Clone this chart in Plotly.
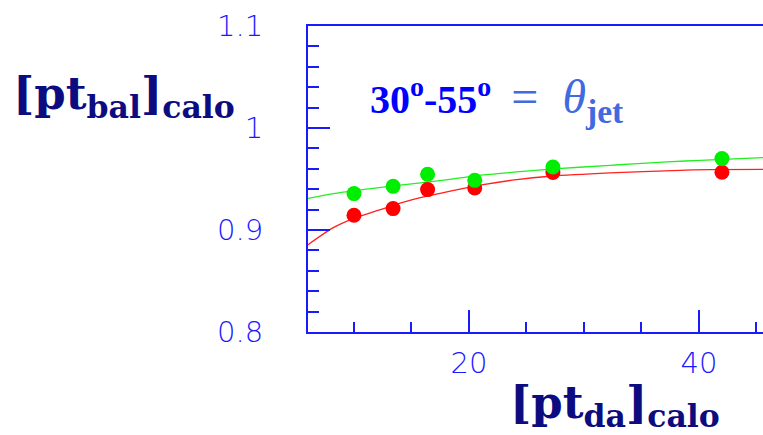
import plotly.graph_objects as go

# ---- data ----
pt_da = [10.0, 13.4, 16.4, 20.5, 27.3, 42.0]
green_vals = [0.9357, 0.9428, 0.9546, 0.9487, 0.9618, 0.9700]
red_vals = [0.9144, 0.9210, 0.9396, 0.9412, 0.9563, 0.9566]

fit_x = [5.94, 8.20, 9.94, 11.68, 13.43, 15.17, 19.22, 21.24, 24.15, 27.04, 32.26, 38.35, 40.96, 45.57]
red_fit = [0.8851, 0.9023, 0.9112, 0.9177, 0.9242, 0.9300, 0.9400, 0.9445, 0.9494, 0.9527, 0.9560, 0.9585, 0.9592, 0.9594]
green_fit_x = [5.94, 8.20, 11.10, 14.0, 16.9, 19.22, 21.24, 24.15, 27.04, 32.26, 34.29, 37.2, 40.09, 45.57]
green_fit = [0.9308, 0.9357, 0.9400, 0.9440, 0.9477, 0.9510, 0.9540, 0.9569, 0.9596, 0.9634, 0.9649, 0.9667, 0.9683, 0.9710]

y_tickvals = [0.8, 0.9, 1.0, 1.1]
y_ticktext = ["0.8", "0.9", "1", "1.1"]
x_tickvals = [20, 40]
x_ticktext = ["20", "40"]

AXIS_BLUE = "#1a1aff"
NAVY = "#0c0c80"

fig = go.Figure()
fig.add_trace(go.Scatter(x=green_fit_x, y=green_fit, mode="lines", line=dict(color="#22ee22", width=1.3, shape="spline", smoothing=0.8), showlegend=False, hoverinfo="skip"))
fig.add_trace(go.Scatter(x=fit_x, y=red_fit, mode="lines", line=dict(color="#ff2020", width=1.3, shape="spline", smoothing=0.8), showlegend=False, hoverinfo="skip"))
fig.add_trace(go.Scatter(x=pt_da, y=red_vals, mode="markers", marker=dict(color="#ff0000", size=15, line=dict(width=0)), showlegend=False))
fig.add_trace(go.Scatter(x=pt_da, y=green_vals, mode="markers", marker=dict(color="#00ee00", size=15, line=dict(width=0)), showlegend=False))

tickfont = dict(family="DejaVu Sans", size=29, color=AXIS_BLUE, weight=200)

fig.update_xaxes(
    range=[6.0, 45.57], showgrid=False, zeroline=False,
    showline=True, linecolor=AXIS_BLUE, linewidth=2, mirror=True,
    tickvals=x_tickvals, ticktext=x_ticktext, ticks="inside", ticklen=22, tickwidth=2, tickcolor=AXIS_BLUE,
    minor=dict(dtick=5, tick0=0, ticks="inside", ticklen=10, tickwidth=2, tickcolor=AXIS_BLUE, showgrid=False),
    tickfont=tickfont, ticklabelstandoff=4,
)
fig.update_yaxes(
    range=[0.8, 1.1], showgrid=False, zeroline=False,
    showline=True, linecolor=AXIS_BLUE, linewidth=2, mirror=False,
    tickvals=y_tickvals, ticktext=y_ticktext, ticks="inside", ticklen=22, tickwidth=2, tickcolor=AXIS_BLUE,
    minor=dict(dtick=0.02, tick0=0.8, ticks="inside", ticklen=11, tickwidth=2, tickcolor=AXIS_BLUE, showgrid=False),
    tickfont=tickfont, ticklabelstandoff=37,
)

title_font = dict(family="DejaVu Serif", size=45, color=NAVY)
fig.add_annotation(
    text="<b>[pt<sub>bal</sub>]<sub>calo</sub></b>",
    xref="paper", yref="paper", x=-0.652, y=0.77, xanchor="left", yanchor="middle",
    showarrow=False, font=title_font,
)
fig.add_annotation(
    text="<b>[pt<sub>da</sub>]<sub>calo</sub></b>",
    xref="paper", yref="paper", x=0.675, y=-0.24, xanchor="center", yanchor="middle",
    showarrow=False, font=title_font,
)
fig.add_annotation(
    text="<b>30<sup>o</sup>-55<sup>o</sup></b>  <span style='color:#4169e1;font-size:48px'>=  <i>θ</i><sub><b>jet</b></sub></span>",
    xref="paper", yref="paper", x=0.132, y=0.757, xanchor="left", yanchor="middle",
    showarrow=False, font=dict(family="Liberation Serif", size=40, color="#0000ff"),
)

fig.update_layout(
    width=763, height=435,
    margin=dict(l=308, r=0, t=26, b=103),
    paper_bgcolor="white", plot_bgcolor="white",
)

fig.write_html("out.html")
